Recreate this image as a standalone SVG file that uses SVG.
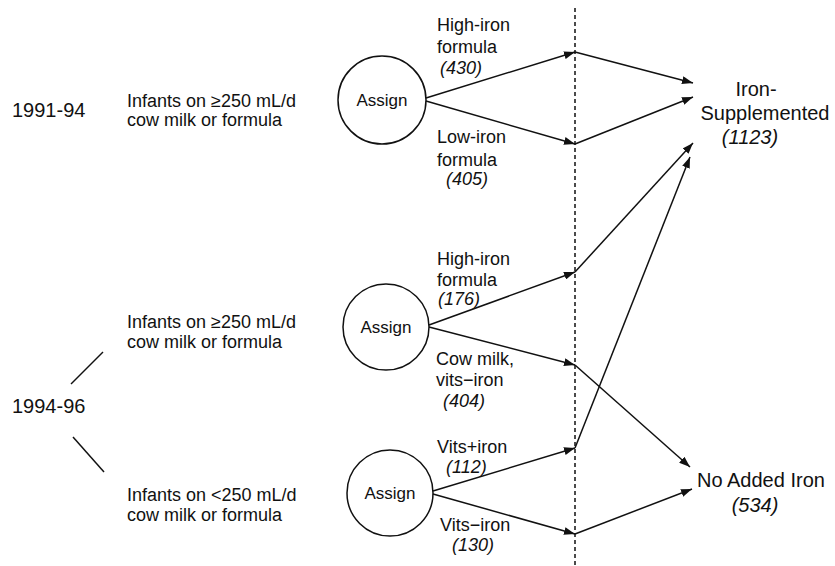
<svg xmlns="http://www.w3.org/2000/svg" width="835" height="566" viewBox="0 0 835 566">
<defs>
<style>
text{font-family:"Liberation Sans",Arial,sans-serif;fill:#111}
.yr{font-size:20px}
.inf{font-size:18px}
.lbl{font-size:18px}
.num{font-size:18px;font-style:italic}
.out{font-size:20px}
.outn{font-size:20px;font-style:italic}
.asg{font-size:17px;text-anchor:middle}
.node circle{fill:#fff;stroke:#111;stroke-width:1.5}
.conn line{stroke:#111;stroke-width:1.5;fill:none}
.arr{marker-end:url(#ah)}
</style>
<marker id="ah" markerUnits="userSpaceOnUse" markerWidth="12" markerHeight="8" refX="11" refY="4" orient="auto">
<path d="M0,0 L11,4 L0,8 z" fill="#111"/>
</marker>
</defs>
<rect width="835" height="566" fill="#fff"/>

<g id="year-1991-94"><text class="yr" x="12" y="117">1991-94</text></g>
<g id="year-1994-96"><text class="yr" x="12" y="413">1994-96</text></g>

<g id="cohort-1"><text class="inf" x="127" y="107">Infants on ≥250 mL/d</text><text class="inf" x="127" y="126">cow milk or formula</text></g>
<g id="cohort-2"><text class="inf" x="127" y="328">Infants on ≥250 mL/d</text><text class="inf" x="127" y="348">cow milk or formula</text></g>
<g id="cohort-3"><text class="inf" x="127" y="501">Infants on &lt;250 mL/d</text><text class="inf" x="127" y="521">cow milk or formula</text></g>

<g id="assign-1" class="node"><circle cx="382" cy="100" r="44"/><text class="asg" x="382" y="106">Assign</text></g>
<g id="assign-2" class="node"><circle cx="386" cy="327" r="43"/><text class="asg" x="386" y="333">Assign</text></g>
<g id="assign-3" class="node"><circle cx="390" cy="493" r="43"/><text class="asg" x="390" y="499">Assign</text></g>

<g id="outcome-iron"><text class="out" x="756" y="96" text-anchor="middle">Iron-</text><text class="out" x="765" y="120" text-anchor="middle">Supplemented</text><text class="outn" x="750" y="144" text-anchor="middle">(1123)</text></g>
<g id="outcome-none"><text class="out" x="697" y="487">No Added Iron</text><text class="outn" x="755" y="512" text-anchor="middle">(534)</text></g>

<g id="labels">
<text class="lbl" x="437" y="31">High-iron</text><text class="lbl" x="437" y="53">formula</text><text class="num" x="440" y="74">(430)</text>
<text class="lbl" x="437" y="143">Low-iron</text><text class="lbl" x="437" y="166">formula</text><text class="num" x="446" y="185">(405)</text>
<text class="lbl" x="437" y="265">High-iron</text><text class="lbl" x="437" y="286">formula</text><text class="num" x="438" y="305">(176)</text>
<text class="lbl" x="436" y="365">Cow milk,</text><text class="lbl" x="436" y="386">vits−iron</text><text class="num" x="443" y="407">(404)</text>
<text class="lbl" x="437" y="453">Vits+iron</text><text class="num" x="446" y="473">(112)</text>
<text class="lbl" x="440" y="531">Vits−iron</text><text class="num" x="452" y="551">(130)</text>
</g>

<g id="connectors" class="conn">
<line x1="575" y1="8" x2="575" y2="566" stroke-dasharray="4,3"/>
<line x1="71" y1="384" x2="103" y2="352"/>
<line x1="73" y1="437" x2="104" y2="472"/>
<line class="arr" x1="426" y1="98" x2="575" y2="52"/>
<line class="arr" x1="426" y1="101" x2="575" y2="144"/>
<line class="arr" x1="575" y1="52" x2="693" y2="83"/>
<line class="arr" x1="575" y1="144" x2="693" y2="97"/>
<line class="arr" x1="429" y1="325" x2="575" y2="272"/>
<line class="arr" x1="429" y1="327" x2="575" y2="365"/>
<line class="arr" x1="575" y1="272" x2="693" y2="143"/>
<line class="arr" x1="575" y1="365" x2="690" y2="467"/>
<line class="arr" x1="433" y1="491" x2="575" y2="448"/>
<line class="arr" x1="433" y1="494" x2="575" y2="534"/>
<line class="arr" x1="575" y1="448" x2="690" y2="157"/>
<line class="arr" x1="575" y1="534" x2="692" y2="489"/>
</g>
</svg>
